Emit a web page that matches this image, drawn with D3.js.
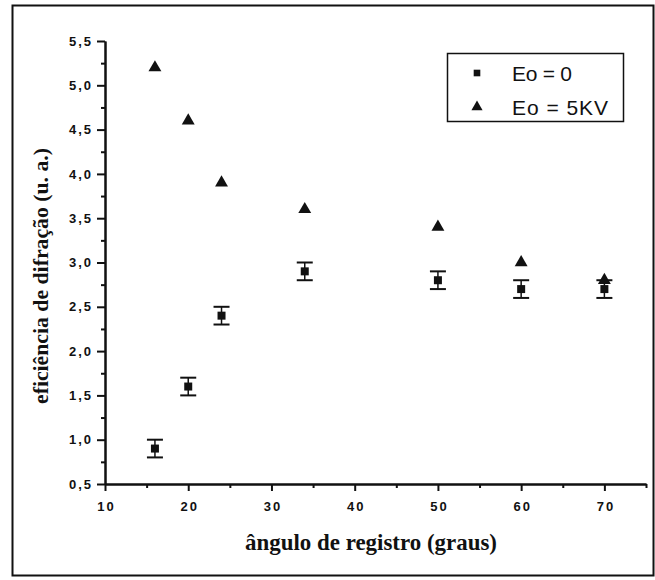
<!DOCTYPE html>
<html>
<head>
<meta charset="utf-8">
<script src="https://cdn.jsdelivr.net/npm/d3@7"></script>
<style>
  body { margin: 0; background: #fff; }
  svg { display: block; }
</style>
</head>
<body>
<script>
// data
const angles = [16, 20, 24, 34, 50, 60, 70];
const eo0 = [0.9, 1.6, 2.4, 2.9, 2.8, 2.7, 2.7];
const eo0Err = [0.1, 0.1, 0.1, 0.1, 0.1, 0.1, 0.1];
const eo5 = [5.2, 4.6, 3.9, 3.6, 3.4, 3.0, 2.8];
const xTicks = [10, 20, 30, 40, 50, 60, 70];
const xMinor = [15, 25, 35, 45, 55, 65, 75];
const yTicks = [0.5, 1.0, 1.5, 2.0, 2.5, 3.0, 3.5, 4.0, 4.5, 5.0, 5.5];
const yMinor = [0.75, 1.25, 1.75, 2.25, 2.75, 3.25, 3.75, 4.25, 4.75, 5.25];
const legendLabels = ["Eo = 0", "Eo = 5KV"];

function main() {
    var width = 655, height = 580;

    var svg = d3.select("body").append("svg")
        .attr("width", width)
        .attr("height", height);

    // outer frame
    svg.append("rect")
        .attr("x", 12.5).attr("y", 5.5)
        .attr("width", 641).attr("height", 570)
        .attr("fill", "none")
        .attr("stroke", "#111")
        .attr("stroke-width", 2);

    var x = d3.scaleLinear().domain([10, 75]).range([105, 646]);
    var y = d3.scaleLinear().domain([0.5, 5.5]).range([484, 41]);

    var fmt = d => d3.format(".1f")(d).replace(".", ",");

    // x axis
    var gx = svg.append("g").attr("transform", "translate(0,484)");
    gx.call(d3.axisBottom(x).tickValues(xTicks).tickSize(7).tickSizeOuter(0).tickFormat(d3.format("d")));
    gx.append("g").call(d3.axisBottom(x).tickValues(xMinor).tickSize(4).tickSizeOuter(0).tickFormat(""));

    // y axis
    var gy = svg.append("g").attr("transform", "translate(105,0)");
    gy.call(d3.axisLeft(y).tickValues(yTicks).tickSize(8).tickSizeOuter(0).tickFormat(fmt));
    gy.append("g").call(d3.axisLeft(y).tickValues(yMinor).tickSize(4).tickSizeOuter(0).tickFormat(""));

    svg.selectAll(".domain").attr("stroke", "#111").attr("stroke-width", 2);
    svg.selectAll(".tick line").attr("stroke", "#111").attr("stroke-width", 2);
    svg.selectAll(".tick text")
        .attr("fill", "#111")
        .style("font-family", "'Liberation Sans', Arial, sans-serif")
        .style("font-weight", "bold")
        .style("font-size", "13px")
        .style("letter-spacing", "2px");
    gx.selectAll(".tick text").attr("dy", "1.3em").attr("dx", "1px");
    gy.selectAll(".tick text").attr("dx", "-1px");

    // axis titles
    svg.append("text")
        .attr("x", 371).attr("y", 550)
        .attr("text-anchor", "middle")
        .attr("textLength", 252)
        .attr("lengthAdjust", "spacingAndGlyphs")
        .style("font-family", "'Liberation Serif', 'Times New Roman', serif")
        .style("font-weight", "bold")
        .style("font-size", "24px")
        .attr("fill", "#111")
        .text("ângulo de registro (graus)");

    svg.append("text")
        .attr("transform", "translate(48,276) rotate(-90)")
        .attr("text-anchor", "middle")
        .attr("textLength", 256)
        .attr("lengthAdjust", "spacingAndGlyphs")
        .style("font-family", "'Liberation Serif', 'Times New Roman', serif")
        .style("font-weight", "bold")
        .style("font-size", "21px")
        .attr("fill", "#111")
        .text("eficiência de difração (u. a.)");

    var sq = d3.symbol().type(d3.symbolSquare).size(64);
    var tri = d3.symbol().type(d3.symbolTriangle).size(72);

    var pts0 = angles.map((a, i) => ({x: a, y: eo0[i], e: eo0Err[i]}));
    var pts5 = angles.map((a, i) => ({x: a, y: eo5[i]}));

    // error bars
    var eb = svg.append("g").selectAll("g").data(pts0).enter().append("g");
    eb.append("line")
        .attr("x1", d => x(d.x)).attr("x2", d => x(d.x))
        .attr("y1", d => y(d.y - d.e)).attr("y2", d => y(d.y + d.e))
        .attr("stroke", "#111").attr("stroke-width", 1.5);
    eb.append("line")
        .attr("x1", d => x(d.x) - 8).attr("x2", d => x(d.x) + 8)
        .attr("y1", d => y(d.y + d.e)).attr("y2", d => y(d.y + d.e))
        .attr("stroke", "#111").attr("stroke-width", 2);
    eb.append("line")
        .attr("x1", d => x(d.x) - 8).attr("x2", d => x(d.x) + 8)
        .attr("y1", d => y(d.y - d.e)).attr("y2", d => y(d.y - d.e))
        .attr("stroke", "#111").attr("stroke-width", 2);

    svg.append("g").selectAll("path").data(pts0).enter().append("path")
        .attr("d", sq)
        .attr("transform", d => "translate(" + x(d.x) + "," + y(d.y) + ")")
        .attr("fill", "#111");

    svg.append("g").selectAll("path").data(pts5).enter().append("path")
        .attr("d", tri)
        .attr("transform", d => "translate(" + x(d.x) + "," + y(d.y) + ")")
        .attr("fill", "#111");

    // legend
    var lg = svg.append("g");
    lg.append("rect")
        .attr("x", 447.5).attr("y", 53.5)
        .attr("width", 176).attr("height", 68)
        .attr("fill", "#fff")
        .attr("stroke", "#111").attr("stroke-width", 1.5);
    var syms = [d3.symbol().type(d3.symbolSquare).size(44), d3.symbol().type(d3.symbolTriangle).size(54)];
    legendLabels.forEach((lab, i) => {
        var ly = 73 + i * 34;
        lg.append("path").attr("d", syms[i])
            .attr("transform", "translate(477," + ly + ")")
            .attr("fill", "#111");
        lg.append("text")
            .attr("x", 512).attr("y", ly + 8)
            .attr("textLength", i == 0 ? 60 : 96)
            .attr("lengthAdjust", "spacing")
            .style("font-family", "'Liberation Sans', Arial, sans-serif")
            .style("font-size", "21px")
            .attr("fill", "#111")
            .text(lab);
    });
}

main();
</script>
</body>
</html>
